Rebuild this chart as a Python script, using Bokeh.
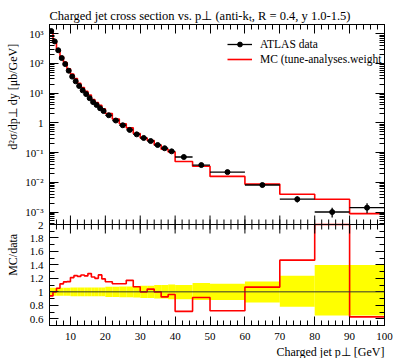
import numpy as np
from bokeh.plotting import figure
from bokeh.layouts import row
from bokeh.models import (Range1d, FixedTicker, LinearAxis, CustomJSTickFormatter, LogScale,
                          Legend, LegendItem, Span, Title)
from bokeh.core.properties import value
from bokeh.embed import file_html
from bokeh.resources import INLINE

# ---------------- data ----------------
bin_edges = [4, 5, 6, 7, 8, 9, 10, 11, 12, 13, 14, 15, 16, 17, 18, 19, 20,
             22, 24, 26, 28, 30, 32, 34, 36, 38, 40, 45, 50, 60, 70, 80, 90, 100]
data_vals = [1230, 550, 277, 152, 95, 57, 36, 25, 17.4, 12.4, 9.3, 6.8, 5.0, 4.0, 3.1, 2.5,
             1.8, 1.2, 0.83, 0.58, 0.41, 0.31, 0.245, 0.18, 0.14, 0.11,
             0.071, 0.038, 0.022, 0.0081, 0.0027, 0.0010, 0.0014]
mc_vals = [1156, 550, 292, 170, 109, 65.6, 43.6, 31.0, 21.4, 15.5, 11.5, 8.64, 6.10, 4.80, 3.88, 2.98,
           2.07, 1.344, 0.93, 0.679, 0.441, 0.31, 0.255, 0.18, 0.1295, 0.1056,
           0.0504, 0.0348, 0.0158, 0.00867, 0.00397, 0.0027, 0.00088]
rel_err_up = [0.06] * 6 + [0.065] * 10 + [0.075, 0.075, 0.08, 0.08, 0.085,
                                           0.09, 0.09, 0.10, 0.10, 0.11,
                                           0.10, 0.13, 0.12, 0.155, 0.24, 0.40, 0.40]
rel_err_dn = [0.06] * 6 + [0.065] * 10 + [0.075, 0.075, 0.08, 0.08, 0.085,
                                           0.09, 0.09, 0.10, 0.10, 0.11,
                                           0.11, 0.12, 0.12, 0.16, 0.22, 0.35, 0.35]
x_ticks = [10, 20, 30, 40, 50, 60, 70, 80, 90, 100]
x_minor_ticks = list(range(4, 100, 2))
log_ticks = [1e-3, 1e-2, 1e-1, 1, 10, 100, 1000]
log_minor_ticks = [m * 10.0 ** k for k in range(-4, 4) for m in range(2, 10)]
ratio_ticks = [0.6, 0.8, 1.0, 1.2, 1.4, 1.6, 1.8, 2.0]
ratio_minor_ticks = [0.5, 0.7, 0.9, 1.1, 1.3, 1.5, 1.7, 1.9]

FONT = "Liberation Serif"

e = np.array(bin_edges, float)
d = np.array(data_vals, float)
mc = np.array(mc_vals, float)
up = np.array(rel_err_up, float)
dn = np.array(rel_err_dn, float)
lo, hi = e[:-1], e[1:]
mid = 0.5 * (lo + hi)


def step_xy(vals):
    return np.repeat(e, 2)[1:-1], np.repeat(np.asarray(vals, float), 2)


# ---------------- geometry of the two panels in one frame ----------------
MAIN_H, RATIO_H = 200, 101
LOG_LO, LOG_HI = -3.42, 3.31
PXD = MAIN_H / (LOG_HI - LOG_LO)          # pixels per decade
RPX = 1.5 / RATIO_H                       # ratio units per pixel
Y0, Y1 = 0.5, 0.5 + (MAIN_H + RATIO_H) * RPX
main_range = Range1d(10 ** (LOG_LO - RATIO_H / PXD), 10 ** LOG_HI)
K = PXD * RPX


def lin(v):
    return 2.0 + (np.log10(v) - LOG_LO) * K


left_major = ratio_ticks + [float(lin(v)) for v in log_ticks]
left_minor = ratio_minor_ticks + [float(lin(v)) for v in log_minor_ticks
                                  if LOG_LO <= np.log10(v) <= LOG_HI]

y_fmt = CustomJSTickFormatter(args=dict(lo=LOG_LO, k=K), code="""
if (tick < 2.01) return String(Number(tick.toFixed(1)));
const ex = Math.round(lo + (tick - 2) / k);
if (ex == 0) return "1";
const sup = {"-":"\u207b","0":"\u2070","1":"\u00b9","2":"\u00b2","3":"\u00b3","4":"\u2074"};
return "10" + String(ex).split("").map(c => sup[c]).join("");
""")
blank = CustomJSTickFormatter(code="return '';")


def style_axis(ax, labels=True):
    ax.major_tick_in = 9
    ax.major_tick_out = 0
    ax.minor_tick_in = 5
    ax.minor_tick_out = 0
    ax.axis_line_color = "black"
    ax.major_tick_line_color = "black"
    ax.minor_tick_line_color = "black"
    ax.major_label_text_font = FONT
    ax.major_label_text_font_size = "11px"
    ax.major_label_text_color = "black"
    if not labels:
        ax.formatter = blank
        ax.major_label_text_font_size = "0px"
        ax.major_label_standoff = 0


p = figure(width=377, height=358, x_range=Range1d(4, 100), y_range=Range1d(Y0, Y1),
           extra_y_ranges={"main": main_range}, extra_y_scales={"main": LogScale()},
           output_backend="svg", toolbar_location=None,
           x_axis_location=None, y_axis_location=None,
           title="Charged jet cross section vs. p\u22a5 (anti-k\u209c, R = 0.4, y 1.0-1.5)",
           min_border_left=29, min_border_right=13, min_border_top=24, min_border_bottom=33)
p.xgrid.visible = False
p.ygrid.visible = False
p.outline_line_color = "black"
p.title.text_font = FONT
p.title.text_font_size = "12.5px"
p.title.text_font_style = "normal"
p.title.text_color = "black"
p.title.align = "left"
p.title.standoff = 4

ax_l = LinearAxis(ticker=FixedTicker(ticks=left_major, minor_ticks=left_minor), formatter=y_fmt)
style_axis(ax_l)
ax_l.major_label_standoff = 6
p.add_layout(ax_l, "left")
ax_r = LinearAxis(ticker=FixedTicker(ticks=left_major, minor_ticks=left_minor))
style_axis(ax_r, False)
p.add_layout(ax_r, "right")
ax_t = LinearAxis(ticker=FixedTicker(ticks=x_ticks, minor_ticks=x_minor_ticks))
style_axis(ax_t, False)
p.add_layout(ax_t, "above")
ax_b = LinearAxis(ticker=FixedTicker(ticks=x_ticks, minor_ticks=x_minor_ticks))
style_axis(ax_b)
ax_b.major_label_standoff = 7
p.add_layout(ax_b, "below")

xt = Title(text="Charged jet p\u22a5 [GeV]", align="right", text_font=FONT, text_font_size="12px",
           text_font_style="normal", text_color="black", standoff=0)
p.add_layout(xt, "below")

# ---- ratio panel content ----
p.quad(left=lo, right=hi, bottom=1 - dn, top=1 + up, fill_color="#ffff00", line_color=None)
p.add_layout(Span(location=1, dimension="width", line_color="#333333", line_width=1))
rx, ry = step_xy(np.minimum(mc / d, 2.0))
p.line(rx, ry, line_color="#ff0000", line_width=1.6)

# ---- separator between panels, with ticks both ways ----
p.segment(x0=x_ticks, y0=[2 - 9 * RPX] * len(x_ticks), x1=x_ticks, y1=[2 + 9 * RPX] * len(x_ticks),
          line_color="black", line_width=1)
p.segment(x0=x_minor_ticks, y0=[2 - 5 * RPX] * len(x_minor_ticks), x1=x_minor_ticks,
          y1=[2 + 5 * RPX] * len(x_minor_ticks), line_color="black", line_width=1)
p.add_layout(Span(location=2, dimension="width", line_color="black", line_width=1))

# ---- main panel content ----
sx, sy = step_xy(mc)
r_mc = p.line(sx, sy, line_color="#ff0000", line_width=1.6, y_range_name="main")
r_xerr = p.segment(x0=lo, y0=d, x1=hi, y1=d, line_color="black", line_width=1.3, y_range_name="main")
p.segment(x0=mid, y0=d * (1 - dn), x1=mid, y1=d * (1 + up), line_color="black", line_width=1.3,
          y_range_name="main")
r_pts = p.scatter(mid, d, size=5, marker="circle", fill_color="black", line_color="black",
                  y_range_name="main")

legend = Legend(items=[LegendItem(label="ATLAS data", renderers=[r_xerr, r_pts]),
                       LegendItem(label="MC (tune-analyses.weight", renderers=[r_mc])],
                location=(178, MAIN_H + RATIO_H - 14 - 27), padding=0, margin=0,
                border_line_color=None, background_fill_alpha=0, glyph_width=25, glyph_height=12,
                label_height=12, label_standoff=8, spacing=3, label_text_font=FONT,
                label_text_font_size="11.5px", label_text_color="black")
p.add_layout(legend)

# ---------------- strip with the vertical axis titles ----------------
s = figure(width=20, height=358, x_range=Range1d(0, 20), y_range=Range1d(358, 0),
           output_backend="svg", toolbar_location=None, x_axis_location=None, y_axis_location=None,
           min_border=0, min_border_left=0, min_border_right=0, min_border_top=0, min_border_bottom=0)
s.xgrid.visible = False
s.ygrid.visible = False
s.outline_line_color = None
s.text(x=[12], y=[23], text=["d\u00b2\u03c3/dp\u22a5 dy [\u03bcb/GeV]"], angle=np.pi / 2,
       text_align="right", text_baseline="middle", text_font=value(FONT),
       text_font_size="12px", text_color="black")
s.text(x=[12], y=[274], text=["MC/data"], angle=np.pi / 2,
       text_align="center", text_baseline="middle", text_font=value(FONT),
       text_font_size="12px", text_color="black")

layout = row(s, p, spacing=0)
open("out.html", "w").write(file_html(layout, INLINE))
